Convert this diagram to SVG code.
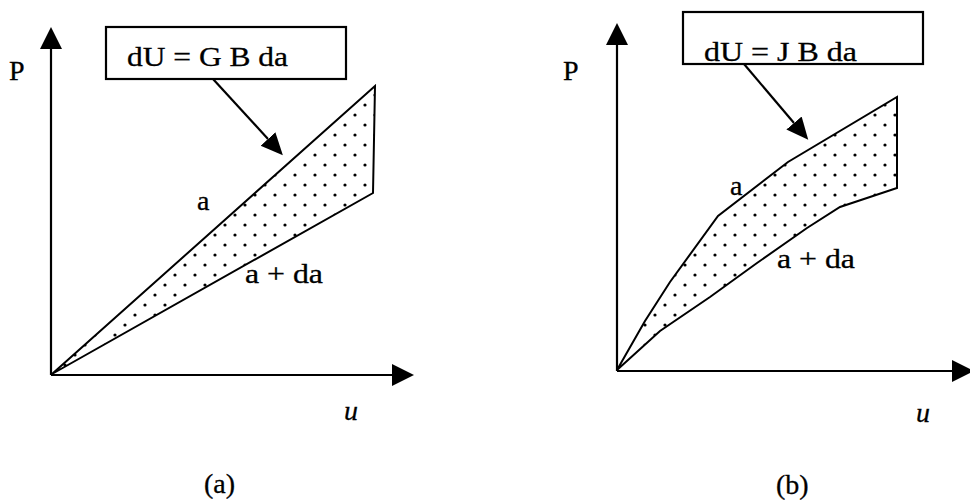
<svg xmlns="http://www.w3.org/2000/svg" width="970" height="503" viewBox="0 0 970 503">
<style>
text{font-family:"Liberation Serif","Times New Roman",serif;fill:#000;stroke:#000;stroke-width:0.3;}
.lbl{font-size:28px;}
.it{font-style:italic;}
.axis{stroke:#000;stroke-width:2.2;fill:none;}
.curve{stroke:#000;stroke-width:2;fill:url(#dots);stroke-linejoin:miter;}
.box{fill:#fff;stroke:#000;stroke-width:2.2;}
.ptr{stroke:#000;stroke-width:2.2;fill:none;}
</style>
<defs>
<pattern id="dots" patternUnits="userSpaceOnUse" width="20" height="20">
<circle cx="5" cy="5" r="1.6" fill="#000"/>
<circle cx="15" cy="15" r="1.6" fill="#000"/>
</pattern>
<marker id="axhead" markerUnits="userSpaceOnUse" markerWidth="22" markerHeight="22" viewBox="0 0 22 22" refX="0" refY="11" orient="auto">
<path d="M0,0 L22,11 L0,22 Z" fill="#000"/>
</marker>
<marker id="ptrhead" markerUnits="userSpaceOnUse" markerWidth="22" markerHeight="22" viewBox="0 0 22 22" refX="0" refY="11" orient="auto">
<path d="M0,1 L22,11 L0,21 Z" fill="#000"/>
</marker>
</defs>

<!-- Panel (a) -->
<g id="panel-a">
<g id="axes-a">
<line class="axis" x1="51" y1="375" x2="51" y2="49" marker-end="url(#axhead)"/>
<line class="axis" x1="51" y1="375" x2="392" y2="375" marker-end="url(#axhead)"/>
<text class="lbl" x="9" y="80">P</text>
<text class="lbl it" x="344" y="420">u</text>
<text class="lbl" x="204" y="493">(a)</text>
</g>
<g id="region-a">
<path class="curve" d="M52,374 L375,86 L373,193 Z"/>
<text class="lbl" x="197" y="210">a</text>
<text class="lbl" x="245" y="283" textLength="78" lengthAdjust="spacingAndGlyphs">a + da</text>
</g>
<g id="box-a">
<rect class="box" x="106" y="27" width="240" height="52"/>
<text class="lbl" x="127" y="66" textLength="161" lengthAdjust="spacingAndGlyphs">dU = G B da</text>
</g>
</g>

<!-- Panel (b) -->
<g id="panel-b">
<g id="axes-b">
<line class="axis" x1="617" y1="371" x2="617" y2="45" marker-end="url(#axhead)"/>
<line class="axis" x1="617" y1="371" x2="952" y2="371" marker-end="url(#axhead)"/>
<text class="lbl" x="563" y="80">P</text>
<text class="lbl it" x="916" y="422">u</text>
<text class="lbl" x="776" y="494">(b)</text>
</g>
<g id="region-b">
<path class="curve" d="M617,370 L645,321 L670,282 L718,216 L788,162 L897,97 L897,188 L840,207 L807,228 L757,263 L710,297 L660,331 Z"/>
<text class="lbl" x="730" y="195">a</text>
<text class="lbl" x="777" y="268" textLength="78" lengthAdjust="spacingAndGlyphs">a + da</text>
</g>
<g id="box-b">
<rect class="box" x="683" y="12" width="240" height="52"/>
<text class="lbl" x="704" y="61" textLength="153" lengthAdjust="spacingAndGlyphs">dU = J B da</text>
</g>
</g>

<!-- Connectors -->
<g id="connectors">
<line class="ptr" x1="213" y1="79" x2="268" y2="139" marker-end="url(#ptrhead)"/>
<line class="ptr" x1="744" y1="64" x2="794" y2="123" marker-end="url(#ptrhead)"/>
</g>
</svg>
